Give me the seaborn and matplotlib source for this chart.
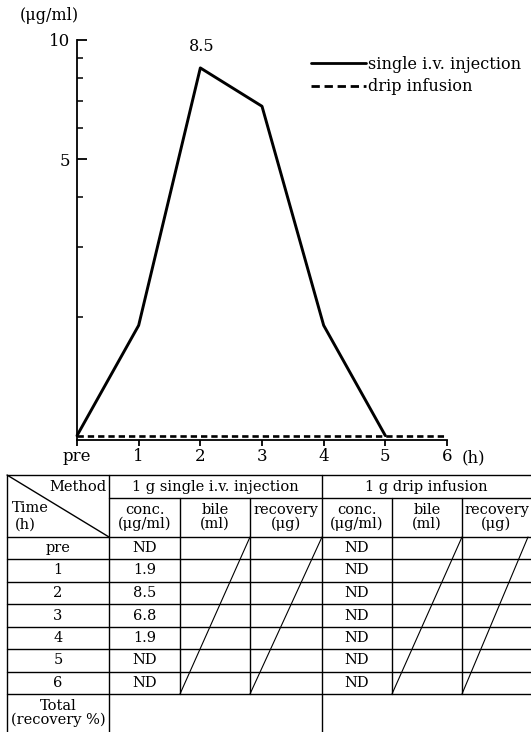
import numpy as np
import pandas as pd
import matplotlib
matplotlib.use("Agg")
import matplotlib.pyplot as plt
from matplotlib.lines import Line2D
from matplotlib.ticker import NullFormatter
import seaborn as sns

# ---- data ----
hours = ["pre", "1", "2", "3", "4", "5", "6"]
single_conc = ["ND", "1.9", "8.5", "6.8", "1.9", "ND", "ND"]
drip_conc = ["ND", "ND", "ND", "ND", "ND", "ND", "ND"]
nd_level = 1.0          # "ND" values sit on the detection floor of the log axis
single_last = 5         # injection curve is drawn up to 5 h
peak_label = "8.5"

methods = ["1 g single i.v. injection", "1 g drip infusion"]
sub_headers = ["conc.\n(\u03bcg/ml)", "bile\n(ml)", "recovery\n(\u03bcg)"]

def to_value(s):
    return nd_level if s == "ND" else float(s)

pos = np.arange(len(hours))
df_single = pd.DataFrame({"t": pos[:single_last + 1],
                          "c": [to_value(s) for s in single_conc[:single_last + 1]]})
df_drip = pd.DataFrame({"t": pos, "c": [to_value(s) for s in drip_conc]})

# ---- style ----
sns.set_theme(style="ticks")
plt.rcParams["font.family"] = ["DejaVu Serif", "DejaVu Sans"]
plt.rcParams["text.color"] = "black"

W, H = 531, 732
fig = plt.figure(figsize=(W / 100, H / 100), dpi=100)
fig.patch.set_facecolor("white")

def fx(px):
    return px / W

def fy(py):
    return 1 - py / H

# ---- line chart ----
x0, x1 = 77, 447
ytop, ybot = 40, 440
ax = fig.add_axes([fx(x0), fy(ybot), fx(x1) - fx(x0), (ybot - ytop) / H])
ax.set_facecolor("none")

sns.lineplot(data=df_single, x="t", y="c", ax=ax, color="black",
             linewidth=2.1, clip_on=False)
sns.lineplot(data=df_drip, x="t", y="c", ax=ax, color="black",
             linewidth=1.9, dashes=False, clip_on=False)
ax.lines[-1].set_dashes((2.4, 1.5))

ax.set_yscale("log")
ax.set_xlim(0, 6)
ax.set_ylim(0.975, 10)
ax.set_xticks(pos)
ax.set_xticklabels(hours, fontsize=12)
ax.set_yticks([5, 10])
ax.set_yticklabels(["5", "10"], fontsize=12)
ax.set_yticks([2, 3, 4, 6, 7, 8, 9], minor=True)
ax.yaxis.set_minor_formatter(NullFormatter())
ax.set_xlabel("")
ax.set_ylabel("")
for s in ["top", "right"]:
    ax.spines[s].set_visible(False)
for s in ["left", "bottom"]:
    ax.spines[s].set_linewidth(1.3)
    ax.spines[s].set_color("black")
ax.tick_params(axis="y", which="major", direction="in", length=7, width=1.3,
               pad=5, colors="black")
ax.tick_params(axis="y", which="minor", direction="in", length=4.5, width=1.3)
ax.tick_params(axis="x", which="major", direction="out", length=4, width=1.3,
               pad=2, colors="black")
ax.grid(False)

peak_i = single_conc.index(peak_label)
ax.annotate(peak_label, (pos[peak_i], to_value(peak_label)), xytext=(1, 9),
            textcoords="offset points", ha="center", va="bottom", fontsize=11.5)

fig.text(fx(20), fy(15), "(\u03bcg/ml)", fontsize=11.5, ha="left", va="center")
fig.text(fx(462), fy(458), "(h)", fontsize=12, ha="left", va="center")

handles = [Line2D([], [], color="black", lw=2.0),
           Line2D([], [], color="black", lw=2.0, dashes=(3.0, 1.7))]
fig.legend(handles, ["single i.v. injection", "drip infusion"],
           loc="upper left", bbox_to_anchor=(fx(311), fy(56)),
           bbox_transform=fig.transFigure, frameon=False, fontsize=11.6,
           handlelength=3.4, handletextpad=0.15, labelspacing=0.33,
           borderpad=0, borderaxespad=0)

# ---- table ----
tab = fig.add_axes([0, 0, 1, 1])
tab.set_xlim(0, W)
tab.set_ylim(H, 0)
tab.axis("off")
tab.patch.set_alpha(0)

cols = [7, 109, 180, 250, 322, 392, 462, 531]
top, mid, head = 475, 498, 537
rows = [head, 559, 582, 604, 627, 649, 672, 694]
lw = 1.0
kw = dict(color="black", lw=lw)

tab.plot([cols[0], W], [top, top], **kw)
tab.plot([cols[1], W], [mid, mid], **kw)
for r in rows:
    tab.plot([cols[0], W], [r, r], **kw)
# verticals
for c in [cols[0], cols[1], cols[4]]:
    tab.plot([c, c], [top, H], **kw)
for c in [cols[2], cols[3], cols[5], cols[6]]:
    tab.plot([c, c], [mid, rows[-1]], **kw)
# corner diagonal
tab.plot([cols[0], cols[1]], [top, head], **kw)
# slashes through unused columns
for c0, c1 in [(cols[2], cols[3]), (cols[3], cols[4]),
               (cols[5], cols[6]), (cols[6], 528)]:
    tab.plot([c0, c1], [rows[-1], rows[0]], color="black", lw=0.8)

fs = 10.5
tab.text(106, 487, "Method", ha="right", va="center", fontsize=fs)
tab.text(12, 508, "Time", ha="left", va="center", fontsize=fs)
tab.text(15, 525, "(h)", ha="left", va="center", fontsize=fs)
tab.text((cols[1] + cols[4]) / 2, 487, methods[0], ha="center", va="center", fontsize=fs)
tab.text((cols[4] + W) / 2, 487, methods[1], ha="center", va="center", fontsize=fs)

for k, label in enumerate(sub_headers * 2):
    cx = (cols[k + 1] + cols[k + 2]) / 2
    tab.text(cx, 517, label, ha="center", va="center", fontsize=fs,
             linespacing=1.0)

for i, h in enumerate(hours):
    cy = (rows[i] + rows[i + 1]) / 2
    tab.text((cols[0] + cols[1]) / 2, cy, h, ha="center", va="center", fontsize=fs)
    tab.text((cols[1] + cols[2]) / 2, cy, single_conc[i], ha="center", va="center", fontsize=fs)
    tab.text((cols[4] + cols[5]) / 2, cy, drip_conc[i], ha="center", va="center", fontsize=fs)

tab.text((cols[0] + cols[1]) / 2, 713, "Total\n(recovery %)", ha="center",
         va="center", fontsize=fs, linespacing=1.0)

fig.savefig("out.png", dpi=100, facecolor="white")
